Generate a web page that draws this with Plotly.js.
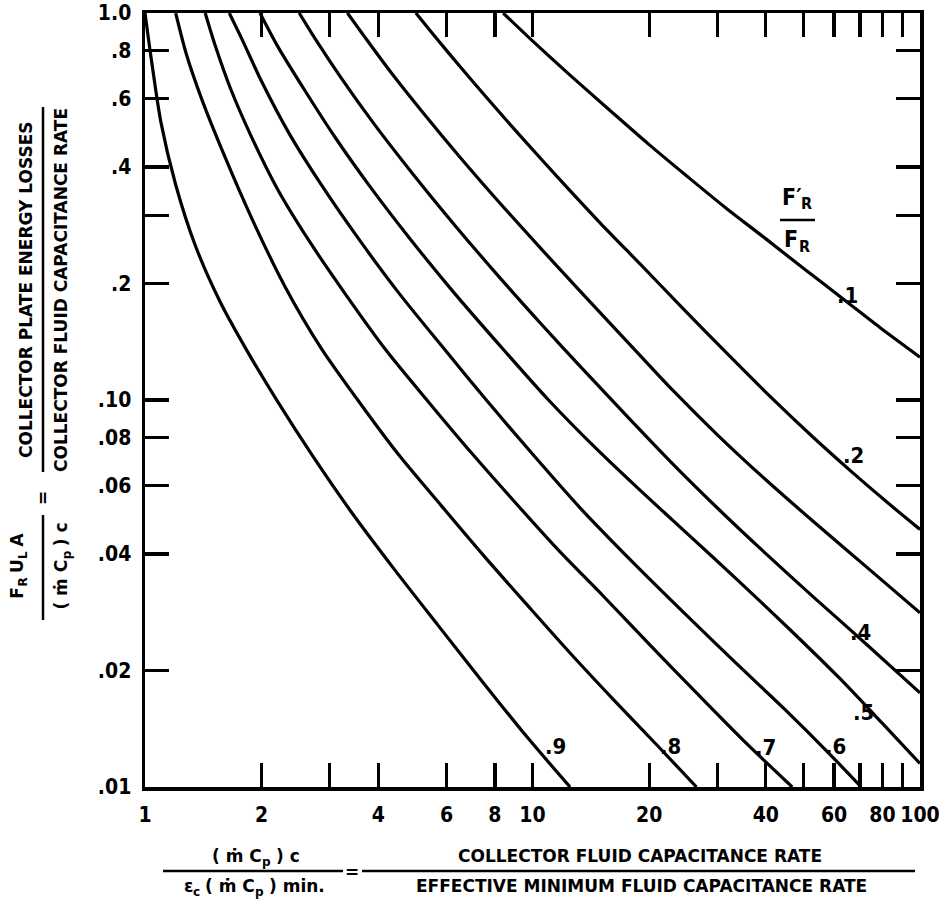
<!DOCTYPE html>
<html>
<head>
<meta charset="utf-8">
<script src="https://cdn.plot.ly/plotly-3.0.1.min.js"></script>
<style>
html,body{margin:0;padding:0;background:#fff;}
#chart{width:947px;height:924px;}
</style>
</head>
<body>
<div id="chart"></div>
<script>
// ---- data (x = capacitance-rate ratio, y = FR UL A / (m Cp)c) ----
const ratioNames = ['.1', '.2', '.3', '.4', '.5', '.6', '.7', '.8', '.9'];

const x_r10 = [8.4, 10, 12.6, 15.85, 20, 25.1, 31.6, 39.8, 50, 63.1, 79.4, 100];
const y_r10 = [1.0, 0.847, 0.686, 0.56, 0.457, 0.378, 0.313, 0.262, 0.219, 0.183, 0.153, 0.129];

const x_r20 = [5.0, 5.6, 6.5, 7.8, 9.5, 11.8, 15, 19, 24.5, 32, 41.6, 53, 67, 83, 100];
const y_r20 = [1.0, 0.87, 0.727, 0.588, 0.47, 0.37, 0.2857, 0.224, 0.172, 0.131, 0.1008, 0.0801, 0.0649, 0.054, 0.0463];

const x_r30 = [3.33, 3.7, 4.3, 5.2, 6.5, 8.3, 10.6, 13.6, 17.5, 23, 30, 40, 54, 74, 100];
const y_r30 = [1.0, 0.864, 0.705, 0.555, 0.424, 0.32, 0.244, 0.186, 0.142, 0.106, 0.0813, 0.0622, 0.0478, 0.0365, 0.0282];

const x_r40 = [2.5, 2.75, 3.2, 3.9, 4.9, 6.3, 8.2, 10.6, 13.5, 17.5, 23, 30, 40, 54, 72, 100];
const y_r40 = [1.0, 0.857, 0.682, 0.517, 0.385, 0.283, 0.208, 0.156, 0.12, 0.091, 0.0684, 0.0526, 0.0401, 0.0305, 0.0236, 0.0175];

const x_r50 = [1.98, 2.2, 2.6, 3.1, 3.8, 4.8, 6.2, 8.2, 11.0, 14.5, 19, 25, 34, 46, 62, 80, 100];
const y_r50 = [1.0, 0.82, 0.625, 0.476, 0.357, 0.263, 0.192, 0.139, 0.1, 0.0754, 0.0583, 0.0453, 0.0341, 0.0256, 0.0191, 0.0146, 0.0115];

const x_r60 = [1.65, 1.78, 2.0, 2.35, 2.85, 3.5, 4.5, 5.9, 7.6, 10.0, 13.3, 18, 24.5, 33, 45, 58.3, 70.5];
const y_r60 = [1.0, 0.855, 0.665, 0.49, 0.36, 0.267, 0.19, 0.136, 0.1, 0.0725, 0.0525, 0.0384, 0.0283, 0.0212, 0.0158, 0.0122, 0.0100];

const x_r70 = [1.43, 1.52, 1.66, 1.88, 2.2, 2.65, 3.3, 4.2, 5.43, 7.0, 9.0, 11.7, 15.2, 20, 26.5, 35, 46.8];
const y_r70 = [1.0, 0.82, 0.64, 0.48, 0.35, 0.258, 0.187, 0.134, 0.098, 0.0725, 0.0545, 0.0408, 0.0312, 0.0234, 0.0175, 0.0132, 0.0100];

const x_r80 = [1.2, 1.28, 1.4, 1.6, 1.9, 2.3, 2.85, 3.54, 4.5, 5.8, 7.5, 9.7, 12.5, 16.2, 21, 26.5];
const y_r80 = [1.0, 0.78, 0.6, 0.43, 0.29, 0.196, 0.136, 0.1, 0.0725, 0.0535, 0.0395, 0.0295, 0.0222, 0.0168, 0.0128, 0.0100];

const x_r90 = [1.0, 1.04, 1.10, 1.20, 1.35, 1.56, 1.85, 2.2, 2.7, 3.4, 4.4, 5.7, 7.4, 9.6, 12.5];
const y_r90 = [1.0, 0.75, 0.52, 0.36, 0.25, 0.18, 0.132, 0.099, 0.072, 0.0515, 0.0365, 0.0262, 0.0188, 0.0136, 0.0100];

const xTickVals = [1, 2, 4, 6, 8, 10, 20, 40, 60, 80, 100];
const xTickText = ['1', '2', '4', '6', '8', '10', '20', '40', '60', '80', '100'];
const xMinorVals = [3, 30, 50, 70, 90];
const yTickVals = [0.01, 0.02, 0.04, 0.06, 0.08, 0.1, 0.2, 0.4, 0.6, 0.8, 1.0];
const yTickText = ['.01', '.02', '.04', '.06', '.08', '.10', '.2', '.4', '.6', '.8', '1.0'];
const yMinorVals = [0.3];

// ---- build ----
const series = [
  [x_r10, y_r10], [x_r20, y_r20], [x_r30, y_r30], [x_r40, y_r40], [x_r50, y_r50],
  [x_r60, y_r60], [x_r70, y_r70], [x_r80, y_r80], [x_r90, y_r90]
];
const NARROW = 'Liberation Sans Narrow, DejaVu Sans Condensed, Arial Narrow, sans-serif';
const WIDE = 'DejaVu Sans, Liberation Sans, sans-serif';

const traces = series.map((s, i) => ({
  type: 'scatter', mode: 'lines', name: ratioNames[i],
  x: s[0], y: s[1],
  line: {color: '#000', width: 3.2, shape: 'spline', smoothing: 0.8},
  hoverinfo: 'skip', showlegend: false
}));

// plot area in pixels: x 145..920, y 13..787
const L = 145, R = 920, T = 13, B = 787;
const px = v => (v - L) / (R - L);
const py = v => (B - v) / (B - T);

const annotations = [];
const note = (o) => annotations.push(Object.assign({xref: 'paper', yref: 'paper', showarrow: false,
  borderpad: 0, borderwidth: 0}, o));

const lblFont = {family: NARROW, size: 22, color: '#000', weight: 'bold'};
const curveLabelPos = {
  '.1': [858, 295], '.2': [864, 455], '.4': [871, 632], '.5': [874, 712],
  '.6': [846, 746], '.7': [776, 747], '.8': [681, 746], '.9': [566, 746]
};
Object.keys(curveLabelPos).forEach(k => {
  const p = curveLabelPos[k];
  note({x: px(p[0]), y: py(p[1]), xanchor: 'right', yanchor: 'middle', text: k, font: lblFont});
});

// composite labels with subscripts built from pieces (measured with canvas)
const ctx = document.createElement('canvas').getContext('2d');
function measure(t, f) {
  ctx.font = 'bold ' + f.size + 'px ' + f.family.split(',').map(s => {
    s = s.trim(); return s.indexOf(' ') >= 0 ? '"' + s + '"' : s; }).join(', ');
  return ctx.measureText(t).width;
}
const mainF = {family: WIDE, size: 17, color: '#000', weight: 'bold'};
const subF = {family: WIDE, size: 12, color: '#000', weight: 'bold'};
const bigF = {family: NARROW, size: 23, color: '#000', weight: 'bold'};
const bigSubF = {family: NARROW, size: 16, color: '#000', weight: 'bold'};

function row(pieces, cx, cy) {           // horizontal text, centred at (cx, cy) px
  const w = pieces.map(p => p.gap !== undefined ? p.gap : measure(p.t, p.f));
  let x = cx - w.reduce((a, b) => a + b, 0) / 2;
  pieces.forEach((p, i) => {
    if (p.t) note({x: px(x), y: py(cy + (p.dy || 0)), xanchor: 'left', yanchor: 'middle', text: p.t, font: p.f});
    x += w[i];
  });
}
function col(pieces, cx, cy) {           // text rotated -90 (reads upward), centred at (cx, cy) px
  const w = pieces.map(p => p.gap !== undefined ? p.gap : measure(p.t, p.f));
  let y = cy + w.reduce((a, b) => a + b, 0) / 2;
  pieces.forEach((p, i) => {
    if (p.t) note({x: px(cx + (p.dy || 0)), y: py(y), xanchor: 'center', yanchor: 'bottom', textangle: -90, text: p.t, font: p.f});
    y -= w[i];
  });
}
const S = 6;  // subscript drop (px)

// F'R / FR legend fraction
row([{t: 'F′', f: bigF}, {t: 'R', f: bigSubF, dy: 7}], 797, 197);
row([{t: 'F', f: bigF}, {t: 'R', f: bigSubF, dy: 7}], 797, 239);

// x-axis title
row([{t: '( ṁ C', f: mainF}, {t: 'p', f: subF, dy: S}, {gap: 5}, {t: ') c', f: mainF}], 256, 856);
row([{t: 'ε', f: mainF}, {t: 'c', f: subF, dy: S}, {gap: 5}, {t: '( ṁ C', f: mainF}, {t: 'p', f: subF, dy: S},
     {gap: 5}, {t: ') min.', f: mainF}], 254, 886);
note({x: px(352), y: py(872), xanchor: 'center', yanchor: 'middle', text: '=', font: mainF});
note({x: px(640), y: py(856), xanchor: 'center', yanchor: 'middle', text: 'COLLECTOR FLUID CAPACITANCE RATE', font: mainF});
note({x: px(641), y: py(886), xanchor: 'center', yanchor: 'middle', text: 'EFFECTIVE MINIMUM FLUID CAPACITANCE RATE', font: mainF});

// y-axis title (rotated)
note({x: px(26), y: py(290), xanchor: 'center', yanchor: 'middle', textangle: -90, text: 'COLLECTOR PLATE ENERGY LOSSES', font: mainF});
note({x: px(61), y: py(290), xanchor: 'center', yanchor: 'middle', textangle: -90, text: 'COLLECTOR FLUID CAPACITANCE RATE', font: mainF});
note({x: px(43), y: py(498), xanchor: 'center', yanchor: 'middle', textangle: -90, text: '=', font: mainF});
col([{t: 'F', f: mainF}, {t: 'R', f: subF, dy: S}, {gap: 5}, {t: 'U', f: mainF}, {t: 'L', f: subF, dy: S},
     {gap: 5}, {t: 'A', f: mainF}], 17, 566);
col([{t: '( ṁ C', f: mainF}, {t: 'p', f: subF, dy: S}, {gap: 5}, {t: ') c', f: mainF}], 61, 566);

const ln = (x0, y0, x1, y1, w) => ({type: 'line', xref: 'paper', yref: 'paper',
  x0: px(x0), y0: py(y0), x1: px(x1), y1: py(y1), line: {color: '#000', width: w || 2.5}});
const shapes = [
  ln(780, 220, 815, 220, 2.5),          // F'R/FR bar
  ln(163, 871, 343, 871, 2.5),          // x title left bar
  ln(362, 871, 915, 871, 2.5),          // x title right bar
  ln(43, 107, 43, 472, 2.5),            // y title right bar
  ln(43, 515, 43, 620, 2.5)             // y title left bar
];

const tickStyle = {ticks: 'inside', ticklen: 24, tickwidth: 3.2, tickcolor: '#000'};
const axisCommon = Object.assign({
  type: 'log', showgrid: false, zeroline: false,
  showline: true, linecolor: '#000', linewidth: 3.5, mirror: 'ticks',
  tickmode: 'array', ticklabelstandoff: 6,
  tickfont: {family: NARROW, size: 21, color: '#000', weight: 'bold'}
}, tickStyle);

const layout = {
  width: 947, height: 924,
  margin: {l: L, r: 947 - R, t: T, b: 924 - B},
  paper_bgcolor: '#fff', plot_bgcolor: '#fff',
  showlegend: false,
  xaxis: Object.assign({}, axisCommon, {range: [0, 2], tickvals: xTickVals, ticktext: xTickText,
    minor: Object.assign({tickmode: 'array', tickvals: xMinorVals, showgrid: false}, tickStyle)}),
  yaxis: Object.assign({}, axisCommon, {range: [-2, 0], tickvals: yTickVals, ticktext: yTickText,
    minor: Object.assign({tickmode: 'array', tickvals: yMinorVals, showgrid: false}, tickStyle)}),
  annotations: annotations,
  shapes: shapes
};

Plotly.newPlot('chart', traces, layout, {staticPlot: true, displayModeBar: false});
</script>
</body>
</html>
